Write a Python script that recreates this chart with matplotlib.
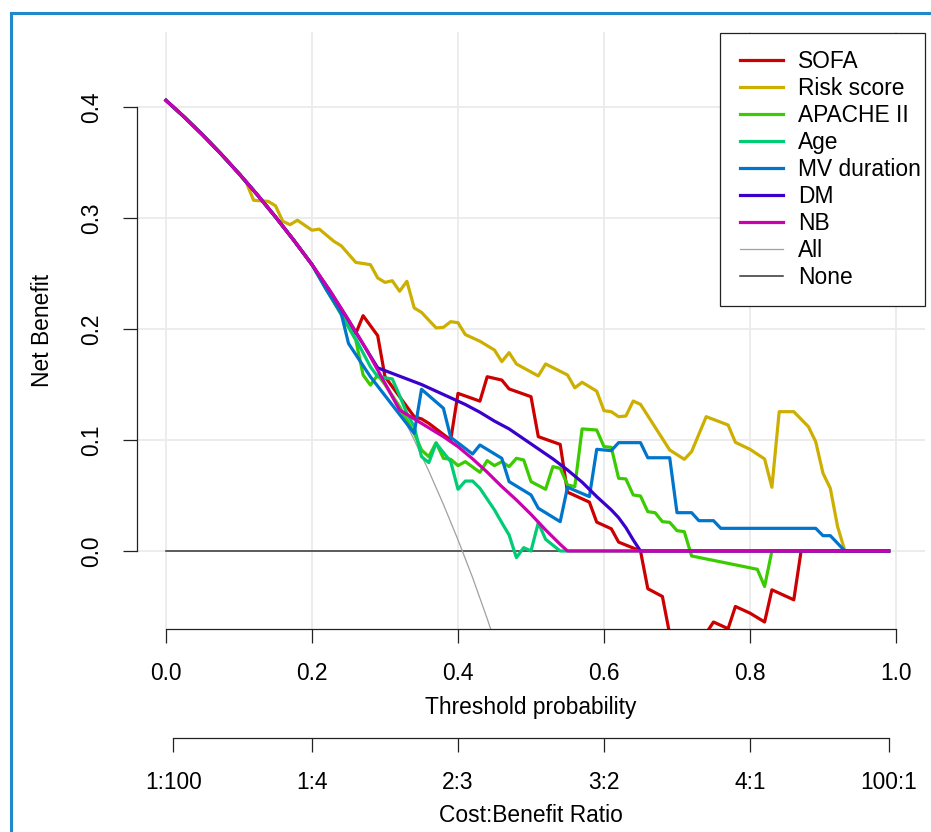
import matplotlib
matplotlib.use("Agg")
import matplotlib.pyplot as plt
from matplotlib.lines import Line2D
from matplotlib.patches import Rectangle

plt.rcParams['font.family'] = ['Liberation Sans', 'DejaVu Sans']

# ---------------- data ----------------
# shared start of every curve (all strategies coincide for low thresholds)
base_t = [0, 0.025, 0.05, 0.075, 0.10, 0.125, 0.15, 0.175, 0.20]
base_y = [0.406, 0.391, 0.375, 0.358, 0.340, 0.321, 0.301, 0.280, 0.258]

sofa_t = base_t + [0.22, 0.24, 0.26, 0.27, 0.29, 0.30, 0.34, 0.35, 0.36, 0.39, 0.40,
                   0.43, 0.44, 0.46, 0.47, 0.50, 0.51, 0.54, 0.55, 0.58, 0.59, 0.61, 0.62, 0.65,
                   0.66, 0.68, 0.69, 0.70, 0.72, 0.74, 0.75, 0.77, 0.78, 0.80, 0.82, 0.83, 0.86,
                   0.87, 0.99]
sofa_y = base_y + [0.237, 0.216, 0.196, 0.212, 0.194, 0.157, 0.121, 0.119, 0.115, 0.100, 0.142,
                   0.135, 0.157, 0.154, 0.146, 0.139, 0.103, 0.096, 0.053, 0.044, 0.026, 0.020,
                   0.008, 0.000, -0.034, -0.041, -0.075, -0.085, -0.090, -0.074, -0.064, -0.070,
                   -0.050, -0.056, -0.064, -0.035, -0.044, 0.0, 0.0]

risk_t = [0, 0.025, 0.05, 0.075, 0.10, 0.11, 0.12, 0.14, 0.15, 0.16, 0.17, 0.18, 0.20, 0.21, 0.23,
          0.24, 0.26, 0.28, 0.29, 0.30, 0.31, 0.32, 0.33, 0.34, 0.35, 0.37, 0.38, 0.39, 0.40, 0.41,
          0.43, 0.45, 0.46, 0.47, 0.48, 0.51, 0.52, 0.55, 0.56, 0.57, 0.59, 0.60, 0.61, 0.62, 0.63,
          0.64, 0.65, 0.69, 0.71, 0.72, 0.74, 0.77, 0.78, 0.80, 0.82, 0.83, 0.84, 0.86, 0.88, 0.89,
          0.90, 0.91, 0.92, 0.93, 0.99]
risk_y = [0.406, 0.391, 0.375, 0.358, 0.340, 0.332, 0.316, 0.315, 0.311, 0.297, 0.294, 0.298,
          0.289, 0.290, 0.279, 0.275, 0.260, 0.258, 0.246, 0.242, 0.2435, 0.234, 0.243, 0.219,
          0.215, 0.201, 0.2015, 0.2066, 0.2057, 0.195, 0.189, 0.181, 0.1706, 0.1787, 0.1685,
          0.1577, 0.1685, 0.1586, 0.147, 0.152, 0.144, 0.1264, 0.1255, 0.121, 0.1216, 0.1351,
          0.1321, 0.091, 0.0826, 0.0895, 0.121, 0.1135, 0.0979, 0.0916, 0.0829, 0.0574, 0.1255,
          0.1255, 0.112, 0.0985, 0.070, 0.0565, 0.0219, 0.0, 0.0]

apache_t = base_t + [0.22, 0.24, 0.26, 0.27, 0.28, 0.29, 0.30, 0.32, 0.34, 0.35, 0.36, 0.37,
                     0.38, 0.39, 0.40, 0.41, 0.43, 0.44, 0.45, 0.46, 0.47, 0.48, 0.49, 0.50, 0.52,
                     0.53, 0.54, 0.55, 0.56, 0.57, 0.59, 0.60, 0.61, 0.62, 0.63, 0.64, 0.65, 0.66,
                     0.67, 0.68, 0.69, 0.70, 0.71, 0.72, 0.81, 0.82, 0.83, 0.99]
apache_y = base_y + [0.235, 0.213, 0.190, 0.1586, 0.1495, 0.1586, 0.150, 0.130, 0.106, 0.091,
                     0.085, 0.0976, 0.0835, 0.0826, 0.0769, 0.0805, 0.0709, 0.0814, 0.0769,
                     0.0805, 0.076, 0.0835, 0.082, 0.0625, 0.0556, 0.076, 0.0745, 0.0595, 0.058,
                     0.110, 0.109, 0.094, 0.0934, 0.0655, 0.0649, 0.0505, 0.0495, 0.0354, 0.0345,
                     0.0264, 0.0258, 0.0183, 0.0174, -0.0045, -0.0165, -0.032, 0.0, 0.0]

age_t = base_t + [0.22, 0.24, 0.26, 0.28, 0.29, 0.31, 0.32, 0.33, 0.34, 0.35, 0.36, 0.37, 0.39,
                  0.40, 0.41, 0.42, 0.43, 0.45, 0.46, 0.47, 0.48, 0.49, 0.50, 0.51, 0.52, 0.54,
                  0.99]
age_y = base_y + [0.236, 0.214, 0.191, 0.166, 0.157, 0.155, 0.140, 0.124, 0.112, 0.085, 0.0796,
                  0.097, 0.0805, 0.0556, 0.063, 0.063, 0.0565, 0.037, 0.0255, 0.0144, -0.006,
                  0.003, 0.0, 0.0255, 0.0105, 0.0, 0.0]

mv_t = base_t + [0.22, 0.23, 0.24, 0.25, 0.28, 0.34, 0.35, 0.38, 0.39, 0.42, 0.43, 0.46, 0.47,
                 0.50, 0.51, 0.54, 0.55, 0.58, 0.59, 0.61, 0.62, 0.65, 0.66, 0.69, 0.70, 0.72,
                 0.73, 0.75, 0.76, 0.89, 0.90, 0.91, 0.93, 0.99]
mv_y = base_y + [0.235, 0.2246, 0.214, 0.187, 0.157, 0.106, 0.1457, 0.1286, 0.1024, 0.0874,
                 0.0955, 0.0835, 0.0625, 0.0505, 0.0385, 0.0264, 0.0574, 0.049, 0.0916, 0.0904,
                 0.0976, 0.0976, 0.084, 0.084, 0.0345, 0.0345, 0.0273, 0.0273, 0.0204, 0.0204,
                 0.0138, 0.0138, 0.0, 0.0]

dm_t = base_t + [0.225, 0.25, 0.275, 0.29, 0.31, 0.33, 0.35, 0.37, 0.39, 0.41, 0.43, 0.45, 0.47,
                 0.49, 0.51, 0.53, 0.55, 0.57, 0.59, 0.61, 0.62, 0.63, 0.64, 0.65, 0.99]
dm_y = base_y + [0.234, 0.208, 0.181, 0.165, 0.160, 0.155, 0.150, 0.144, 0.138, 0.132, 0.125,
                 0.117, 0.110, 0.101, 0.092, 0.083, 0.073, 0.062, 0.049, 0.037, 0.030, 0.021,
                 0.010, 0.0, 0.0]

nb_t = base_t + [0.225, 0.25, 0.275, 0.30, 0.32, 0.34, 0.36, 0.38, 0.40, 0.42, 0.44, 0.46, 0.48,
                 0.50, 0.52, 0.54, 0.55, 0.99]
nb_y = base_y + [0.234, 0.208, 0.181, 0.151, 0.127, 0.119, 0.111, 0.103, 0.094, 0.083, 0.071,
                 0.058, 0.046, 0.033, 0.019, 0.006, 0.0, 0.0]

all_t = base_t + [0.225, 0.25, 0.275, 0.30, 0.32, 0.34, 0.36, 0.38, 0.40, 0.42, 0.44, 0.46]
all_y = base_y + [0.234, 0.208, 0.181, 0.151, 0.127, 0.100, 0.072, 0.042, 0.010, -0.024, -0.061,
                  -0.100]

none_t = [0, 0.99]
none_y = [0, 0]

series_names = ["SOFA", "Risk score", "APACHE II", "Age", "MV duration", "DM", "NB"]
series_colors = ["#CC0000", "#CCAF00", "#3ACC00", "#00CC75", "#0075CC", "#3A00CC", "#CC00AF"]

x_ticks = [0.0, 0.2, 0.4, 0.6, 0.8, 1.0]
y_ticks = [0.0, 0.1, 0.2, 0.3, 0.4]
cb_labels = ["1:100", "1:4", "2:3", "3:2", "4:1", "100:1"]

# ---------------- layout helpers (pixels -> figure fractions) ----------------
W, H = 931, 832
def fx(px): return px / W
def fy(py): return 1 - py / H

fig = plt.figure(figsize=(W / 100, H / 100), dpi=100)
ax = fig.add_axes([fx(136.8), fy(629), fx(925.2) - fx(136.8), fy(32) - fy(629)])
ax.set_xlim(-0.04, 1.04)
ax.set_ylim(-0.0703, 0.4676)

for v in x_ticks:
    ax.axvline(v, color="#EBEBEB", lw=1.3, zorder=0)
for v in y_ticks:
    ax.axhline(v, color="#EBEBEB", lw=1.3, zorder=0)

ax.plot(none_t, none_y, color="#333333", lw=1.1, zorder=1)
ax.plot(all_t, all_y, color="#A0A0A0", lw=0.9, zorder=1)
curves = [(sofa_t, sofa_y), (risk_t, risk_y), (apache_t, apache_y), (age_t, age_y),
          (mv_t, mv_y), (dm_t, dm_y), (nb_t, nb_y)]
for (t, y), c in zip(curves, series_colors):
    ax.plot(t, y, color=c, lw=2.3, solid_joinstyle="round", zorder=2)

for s in ["top", "right"]:
    ax.spines[s].set_visible(False)
ax.spines["left"].set_bounds(0, 0.4)
ax.spines["bottom"].set_bounds(0, 1)
for s in ["left", "bottom"]:
    ax.spines[s].set_color("#222222")
    ax.spines[s].set_linewidth(0.9)

FS = 16.4
ax.set_xticks(x_ticks)
ax.set_xticklabels([f"{v:.1f}" for v in x_ticks])
ax.set_yticks(y_ticks)
ax.set_yticklabels([f"{v:.1f}" for v in y_ticks])
ax.tick_params(axis="both", direction="out", length=10, width=0.9, color="#222222",
               labelsize=FS, pad=14)
for lab in ax.get_yticklabels():
    lab.set_rotation(90)
    lab.set_va("center")
ax.set_xlabel("Threshold probability", fontsize=FS, labelpad=8)
ax.set_ylabel("Net Benefit", fontsize=FS, labelpad=19)

# cost:benefit axis
ax2 = fig.add_axes([fx(136.8), fy(737.7), fx(925.2) - fx(136.8), 0.0005])
ax2.set_xlim(-0.04, 1.04)
ax2.set_ylim(0, 1)
ratios = [tuple(float(p) for p in s.split(":")) for s in cb_labels]
cb_pos = [a / (a + b) for a, b in ratios]
ax2.set_xticks(cb_pos)
ax2.set_xticklabels(cb_labels)
ax2.set_yticks([])
for s in ["top", "right", "left"]:
    ax2.spines[s].set_visible(False)
ax2.spines["bottom"].set_bounds(cb_pos[0], cb_pos[-1])
ax2.spines["bottom"].set_color("#222222")
ax2.spines["bottom"].set_linewidth(0.9)
ax2.patch.set_visible(False)
ax2.tick_params(axis="x", direction="out", length=10, width=0.9, color="#222222",
                labelsize=FS, pad=14)
ax2.set_xlabel("Cost:Benefit Ratio", fontsize=FS, labelpad=7)

# legend: frame drawn separately (R-style asymmetric padding)
fig.add_artist(Rectangle((fx(720), fy(306)), fx(925) - fx(720), fy(32.7) - fy(306),
                         transform=fig.transFigure, facecolor="white", edgecolor="#222222",
                         lw=0.9, zorder=4))
handles = [Line2D([], [], color=c, lw=2.3) for c in series_colors]
handles += [Line2D([], [], color="#A0A0A0", lw=0.9), Line2D([], [], color="#333333", lw=1.1)]
labels = series_names + ["All", "None"]
leg = fig.legend(handles, labels, loc="upper left", bbox_to_anchor=(fx(740), fy(49.5)),
                 fontsize=FS, frameon=False, handlelength=1.88, handletextpad=0.655,
                 labelspacing=0.18, borderpad=0, borderaxespad=0)
leg.set_zorder(5)

# blue frame
fig.add_artist(Line2D([fx(11), fx(11)], [fy(13), 0], color="#1F89C9", lw=2.2))
fig.add_artist(Line2D([fx(11), 1], [fy(13), fy(13)], color="#1F89C9", lw=2.2))

fig.savefig("out.png", dpi=100)
